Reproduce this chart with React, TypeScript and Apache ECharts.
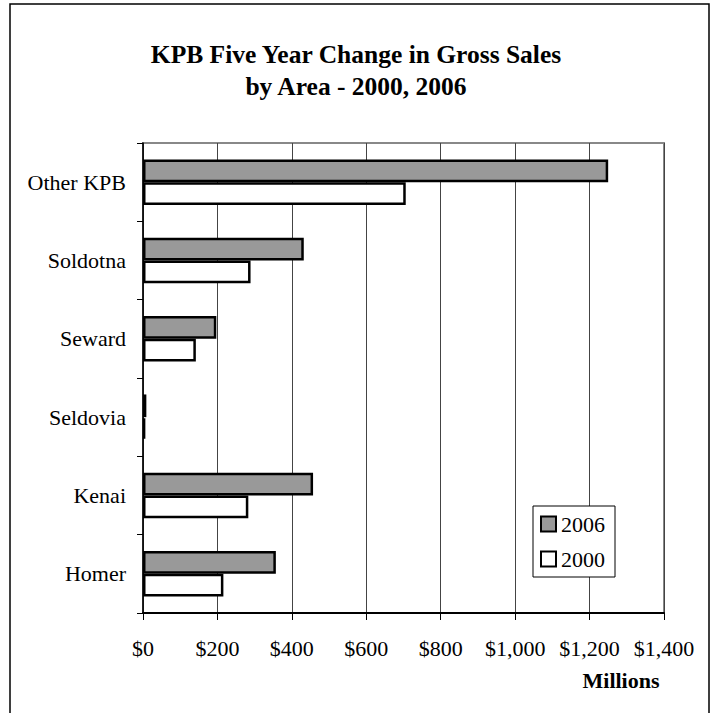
import React, { useEffect, useRef } from "react";
import * as echarts from "echarts";

const categories = ["Homer", "Kenai", "Seldovia", "Seward", "Soldotna", "Other KPB"];
const values2006 = [357, 457, 9, 197, 432, 1250];
const values2000 = [216, 283, 6, 142, 289, 706];
const xTicks = [0, 200, 400, 600, 800, 1000, 1200, 1400];
const titleText = "KPB Five Year Change in Gross Sales\nby Area - 2000, 2006";
const axisUnit = "Millions";

const FONT = "'Liberation Serif', 'Times New Roman', serif";

export default function App() {
  const ref = useRef<HTMLDivElement>(null);
  useEffect(() => {
    if (!ref.current) return;
    const chart = echarts.init(ref.current, undefined, { renderer: "svg" });
    chart.setOption({
      animation: false,
      backgroundColor: "#ffffff",
      title: {
        text: titleText,
        left: "center",
        top: 33,
        textStyle: {
          fontFamily: FONT,
          fontWeight: "bold",
          fontSize: 25.5,
          lineHeight: 32,
          color: "#000",
        },
      },
      legend: {
        data: ["2006", "2000"],
        orient: "vertical",
        left: 533,
        top: 506,
        padding: [7, 10, 7, 7],
        itemGap: 13,
        itemWidth: 15,
        itemHeight: 15,
        icon: "rect",
        borderColor: "#000",
        borderWidth: 1,
        backgroundColor: "#fff",
        textStyle: { fontFamily: FONT, fontSize: 22, color: "#000" },
        itemStyle: { borderColor: "#000", borderWidth: 2 },
      },
      grid: {
        left: 143,
        right: 48,
        top: 143,
        bottom: 100,
        show: true,
        borderColor: "#888",
        borderWidth: 2,
        containLabel: false,
      },
      xAxis: {
        type: "value",
        min: xTicks[0],
        max: xTicks[xTicks.length - 1],
        interval: 200,
        axisLine: { show: true, lineStyle: { color: "#000", width: 2 } },
        axisTick: { show: true, length: 7, lineStyle: { color: "#000", width: 1 } },
        splitLine: { show: true, lineStyle: { color: "#444", width: 1 } },
        axisLabel: {
          margin: 24,
          fontFamily: FONT,
          fontSize: 22,
          color: "#000",
          formatter: (v: number) => "$" + v.toLocaleString("en-US"),
        },
      },
      yAxis: {
        type: "category",
        data: categories,
        axisLine: { show: true, lineStyle: { color: "#000", width: 1.5 } },
        axisTick: { show: true, length: 6, lineStyle: { color: "#000", width: 1 } },
        axisLabel: {
          margin: 17,
          fontFamily: FONT,
          fontSize: 22,
          color: "#000",
        },
      },
      series: [
        {
          name: "2006",
          type: "bar",
          data: values2006,
          barGap: "0%",
          barCategoryGap: "42%",
          itemStyle: { color: "#999999", borderColor: "#000", borderWidth: 2.5 },
        },
        {
          name: "2000",
          type: "bar",
          data: values2000,
          barGap: "0%",
          barCategoryGap: "42%",
          itemStyle: { color: "#ffffff", borderColor: "#000", borderWidth: 2.5 },
        },
      ],
      graphic: [
        {
          type: "rect",
          shape: { x: 10, y: 4, width: 699, height: 730 },
          style: { fill: "none", stroke: "#000", lineWidth: 1.5 },
          silent: true,
        },
        {
          type: "text",
          x: 621,
          y: 680,
          style: {
            text: axisUnit,
            fontFamily: FONT,
            fontWeight: "bold",
            fontSize: 22,
            fill: "#000",
            align: "center",
            verticalAlign: "middle",
          },
        },
      ],
    });
    return () => chart.dispose();
  }, []);
  return (
    <div
      ref={ref}
      style={{ position: "fixed", left: 0, top: 0, width: 712, height: 713, background: "#fff" }}
    />
  );
}
